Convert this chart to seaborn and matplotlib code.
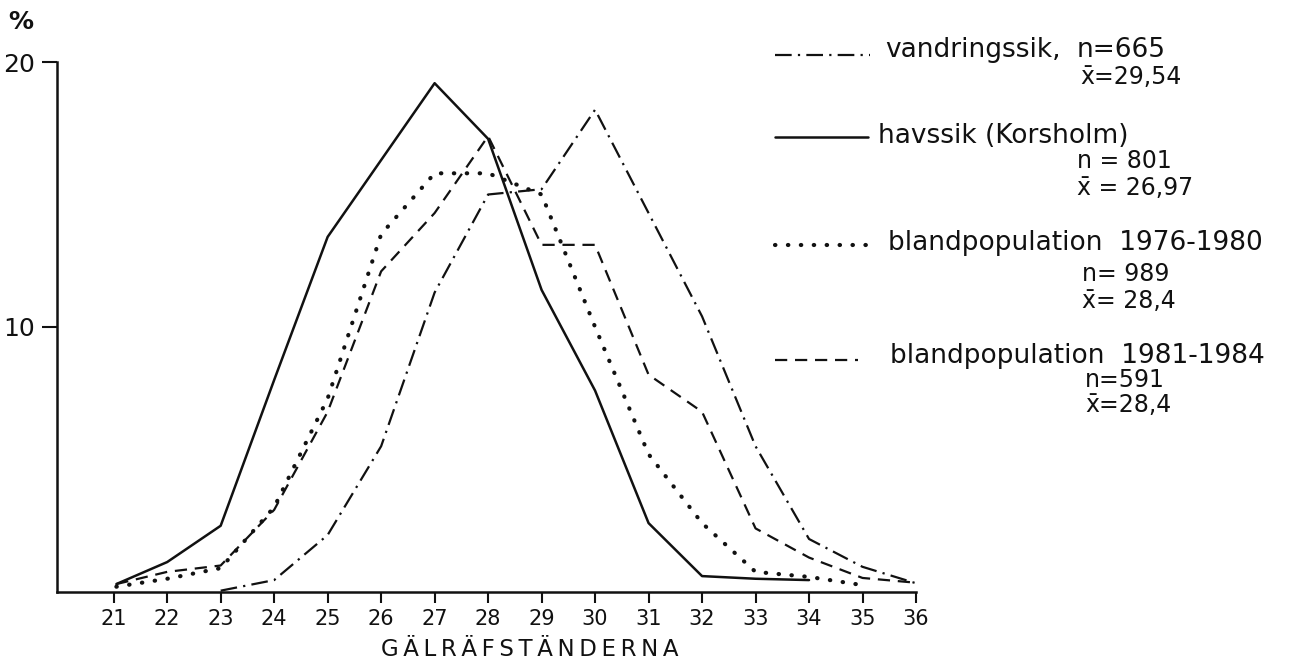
import numpy as np
import pandas as pd
import matplotlib
matplotlib.use("Agg")
import matplotlib.pyplot as plt
from matplotlib.lines import Line2D
import seaborn as sns

# Gill raker counts (x) and share of fish in percent for each population
gill_rakers = [21, 22, 23, 24, 25, 26, 27, 28, 29, 30, 31, 32, 33, 34, 35, 36]

vandringssik_x = [23, 24, 25, 26, 27, 28, 29, 30, 31, 32, 33, 34, 35, 36]
vandringssik_y = [0.05, 0.45, 2.15, 5.5, 11.3, 15.0, 15.2, 18.2, 14.3, 10.4, 5.5, 2.0, 0.95, 0.33]

havssik_x = [21.05, 22, 23, 24, 25, 26, 27, 28, 29, 30, 31, 32, 33, 34]
havssik_y = [0.3, 1.13, 2.5, 8.0, 13.4, 16.3, 19.2, 17.1, 11.4, 7.6, 2.6, 0.6, 0.5, 0.45]

bland7680_x = [21.05, 22, 23, 24, 25, 26, 27, 28, 29, 30, 31, 32, 33, 34, 35]
bland7680_y = [0.2, 0.5, 0.9, 3.2, 7.3, 13.5, 15.8, 15.8, 15.0, 10.0, 5.2, 2.6, 0.76, 0.57, 0.26]

bland8184_x = [21.05, 22, 23, 24, 25, 26, 27, 28, 29, 30, 31, 32, 33, 34, 35, 36]
bland8184_y = [0.3, 0.76, 1.0, 3.1, 6.8, 12.1, 14.3, 17.2, 13.1, 13.1, 8.2, 6.8, 2.4, 1.3, 0.53, 0.35]

y_ticks = [10, 20]

labels = ["vandringssik,", "havssik (Korsholm)",
          "blandpopulation  1976-1980", "blandpopulation  1981-1984"]
n_texts = ["n=665", "n = 801", "n= 989", "n=591"]
mean_texts = ["x\u0304=29,54", "x\u0304 = 26,97", "x\u0304= 28,4", "x\u0304=28,4"]
x_title = "GÄLRÄFSTÄNDERNA"

sns.set_theme(style="white")
plt.rcParams["font.family"] = ["DejaVu Sans"]

W, H = 1304, 663
fig = plt.figure(figsize=(W / 100, H / 100), dpi=100)
fig.patch.set_facecolor("white")

left, right, bottom, top = 57, 916, 592, 62
ax = fig.add_axes([left / W, 1 - bottom / H, (right - left) / W, (bottom - top) / H])
ax.set_facecolor("white")

ink = "#111111"
styles = {
    "dashdot": dict(linestyle=(0, (7.5, 2.8, 1, 2.8)), lw=1.6),
    "solid": dict(linestyle="-", lw=1.8),
    "dotted": dict(linestyle=(0, (0.1, 3.0)), lw=3.0, dash_capstyle="round"),
    "dashed": dict(linestyle=(0, (5.5, 3.5)), lw=1.6),
}

series = [
    (vandringssik_x, vandringssik_y, "dashdot"),
    (havssik_x, havssik_y, "solid"),
    (bland7680_x, bland7680_y, "dotted"),
    (bland8184_x, bland8184_y, "dashed"),
]

for xs, ys, st in series:
    df = pd.DataFrame({"x": xs, "y": ys})
    sns.lineplot(data=df, x="x", y="y", ax=ax, color=ink, estimator=None,
                 sort=False, **styles[st])

ax.set_xlim(19.94, 36)
ax.set_ylim(0, 20)
ax.set_xticks(gill_rakers)
ax.set_xticklabels([str(v) for v in gill_rakers], fontsize=15, color=ink)
ax.set_yticks(y_ticks)
ax.set_yticklabels([str(v) for v in y_ticks], fontsize=18, color=ink)
ax.tick_params(axis="x", bottom=True, direction="out", length=8, width=1.5,
               colors=ink, pad=4)
ax.tick_params(axis="y", left=True, direction="out", length=11, width=1.5,
               colors=ink, pad=5)
ax.set_xlabel("")
ax.set_ylabel("")
ax.grid(False)
for s in ["top", "right"]:
    ax.spines[s].set_visible(False)
for s in ["left", "bottom"]:
    ax.spines[s].set_color(ink)
    ax.spines[s].set_linewidth(1.8)


def fx(px):
    return px / W


def fy(py):
    return 1 - py / H


# Axis title with widened letter spacing
fig.text(fx(530), fy(650), "\u2009".join(x_title), fontsize=16.5, color=ink,
         ha="center", va="center")
fig.text(fx(8), fy(22), "%", fontsize=18, fontweight="bold", color=ink,
         ha="left", va="center")

# Key: line samples with labels, sample sizes and means
legend_rows = [
    # sample y, sample end, label x, label y, n x, n y, mean x, mean y
    (55, 870, 885, 50, 1077, 50, 1080, 77),
    (137, 868, 878, 136, 1077, 161, 1077, 188),
    (245, 874, 888, 243, 1082, 274, 1082, 301),
    (360, 858, 890, 356, 1085, 380, 1085, 405),
]
keys = ["dashdot", "solid", "dotted", "dashed"]
for i, (row, key, lab, ntxt, mtxt) in enumerate(
        zip(legend_rows, keys, labels, n_texts, mean_texts)):
    ys, xe, lx, ly, nx, ny, mx, my = row
    fig.add_artist(Line2D([fx(775), fx(xe)], [fy(ys), fy(ys)],
                          color=ink, transform=fig.transFigure, **styles[key]))
    fig.text(fx(lx), fy(ly), lab, fontsize=19, color=ink, ha="left", va="center")
    fig.text(fx(nx), fy(ny), ntxt, fontsize=19 if i == 0 else 17, color=ink,
             ha="left", va="center")
    fig.text(fx(mx), fy(my), mtxt, fontsize=17, color=ink, ha="left", va="center")

fig.savefig("out.png", dpi=100, facecolor="white")
